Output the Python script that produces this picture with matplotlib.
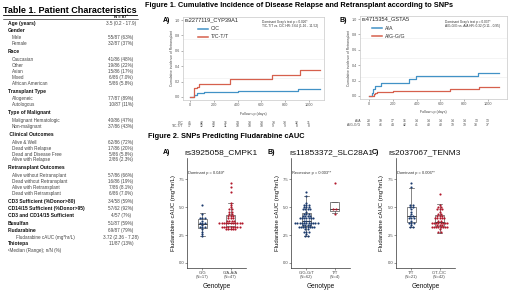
import numpy as np
import matplotlib.pyplot as plt
from matplotlib.transforms import blended_transform_factory

plt.rcParams['font.family'] = ['Liberation Sans', 'DejaVu Sans']

W, H = 520, 292

# ---- Table 1 data ----
row_labels = ["Age (years)", "Gender", "Male", "Female", "Race", "Caucasian", "Other",
              "Asian", "Mixed", "African American", "Transplant Type", "Allogeneic",
              "Autologous", "Type of Malignant", "Malignant Hematologic", "Non-malignant",
              " Clinical Outcomes", "Alive & Well", "Dead with Relapse", "Dead and Disease Free",
              "Alive with Relapse", "Retransplant Outcomes", "Alive without Retransplant",
              "Dead without Retransplant", "Alive with Retransplant", "Dead with Retransplant",
              "CD3 Sufficient (%Donor>80)", "CD14/15 Sufficient (%Donor>95)",
              "CD3 and CD14/15 Sufficient", "Busulfan", "Fludarabine",
              "Fludarabine cAUC (mg*hr/L)", "Thiotepa"]
row_values = ["3.5 (0.2 - 17.9)", "", "55/87 (63%)", "32/87 (37%)", "", "41/86 (48%)",
              "19/86 (22%)", "15/86 (17%)", "6/86 (7.0%)", "5/86 (5.8%)", "", "77/87 (89%)",
              "10/87 (11%)", "", "40/86 (47%)", "37/86 (43%)", "", "62/86 (72%)",
              "17/86 (20%)", "5/86 (5.8%)", "2/86 (2.3%)", "", "57/86 (66%)", "16/86 (19%)",
              "7/86 (8.1%)", "6/86 (7.0%)", "34/58 (59%)", "57/62 (92%)", "4/57 (7%)",
              "51/87 (59%)", "69/87 (79%)", "3.72 (2.36 - 7.28)", "11/87 (13%)"]
row_kinds = ["hv", "h", "i", "i", "h", "i", "i", "i", "i", "i", "h", "i", "i", "h", "i", "i",
             "h", "i", "i", "i", "i", "h", "i", "i", "i", "i", "hv", "hv", "hv", "hv", "hv",
             "i2", "hv"]

# ---- Figure 1 data (cumulative incidence steps) ----
a_cc_days = [0, 36, 56, 117, 405, 910, 1090]
a_cc_inc = [0, 0.02, 0.045, 0.065, 0.08, 0.10, 0.10]
a_tc_days = [0, 34, 56, 78, 340, 693, 927, 1090]
a_tc_inc = [0, 0.11, 0.13, 0.17, 0.23, 0.29, 0.35, 0.35]
b_aa_days = [0, 25, 34, 48, 104, 335, 394, 915, 1090]
b_aa_inc = [0, 0.04, 0.09, 0.13, 0.17, 0.22, 0.26, 0.30, 0.30]
b_ag_days = [0, 42, 54, 65, 203, 682, 920, 1090]
b_ag_inc = [0, 0.02, 0.04, 0.05, 0.07, 0.09, 0.11, 0.11]

risk_days = [0, 100, 200, 300, 400, 500, 600, 700, 800, 900, 1000]
a_risk_cc = [45, 42, 38, 36, 34, 33, 33, 33, 33, 32, 31]
a_risk_tc = [17, 12, 12, 11, 10, 10, 10, 9, 9, 8, 8]
b_risk_aa = [23, 19, 17, 16, 14, 14, 14, 14, 14, 13, 13]
b_risk_ag = [34, 46, 44, 42, 41, 40, 40, 39, 39, 38, 37]

# ---- Figure 2 data (fludarabine cAUC, mg*hr/L) ----
cmpk1_gg = [2.4, 2.6, 2.9, 3.0, 3.1, 3.2, 3.3, 3.4, 3.5, 3.5, 3.7, 3.8, 3.9, 4.0, 4.1, 4.5, 5.2]
cmpk1_ga = [3.0, 3.0, 3.0, 3.0, 3.0, 3.1, 3.1, 3.1, 3.1, 3.3, 3.3, 3.3, 3.3, 3.3,
            3.5, 3.5, 3.5, 3.5, 3.5, 3.5, 3.6, 3.6, 3.6, 3.6, 3.6, 3.8, 3.8, 3.8, 3.8,
            4.0, 4.0, 4.0, 4.2, 4.2, 4.2, 4.4, 4.4, 4.6, 4.6, 4.8, 4.8, 5.0, 5.2, 5.4,
            6.5, 6.8, 7.3]
slc_gg = [2.4, 2.5, 2.6, 2.7, 2.8, 2.9, 3.0, 3.0, 3.1, 3.1, 3.2, 3.2, 3.2, 3.3, 3.3, 3.3,
          3.4, 3.4, 3.4, 3.4, 3.5, 3.5, 3.5, 3.5, 3.6, 3.6, 3.6, 3.6, 3.7, 3.7, 3.7,
          3.8, 3.8, 3.8, 3.9, 3.9, 3.9, 4.0, 4.0, 4.1, 4.1, 4.2, 4.2, 4.3, 4.3, 4.4,
          4.5, 4.5, 4.6, 4.7, 4.8, 4.8, 4.9, 5.0, 5.0, 5.1, 5.2, 5.2, 5.3, 5.4, 6.0, 6.4]
slc_tt = [4.5, 4.7, 4.9, 7.2]
tenm_tt = [3.2, 3.3, 3.4, 3.5, 3.6, 3.7, 3.8, 3.9, 4.0, 4.1, 4.2, 4.3, 4.5, 4.6, 4.8,
           5.0, 5.1, 5.2, 5.3, 6.7, 7.3]
tenm_ct = [2.7, 2.9, 3.0, 3.1, 3.1, 3.2, 3.2, 3.2, 3.3, 3.3, 3.3, 3.4, 3.4, 3.4, 3.5, 3.5,
           3.5, 3.6, 3.6, 3.7, 3.7, 3.7, 3.8, 3.8, 3.9, 3.9, 4.0, 4.0, 4.1, 4.2, 4.2,
           4.3, 4.4, 4.5, 4.6, 4.7, 4.8, 4.9, 5.0, 5.1, 5.3, 6.3]

BLUE, RED = "#4292c6", "#d6604d"
NAVY, DRED = "#1c3b6e", "#b2182b"

fig = plt.figure(figsize=(5.2, 2.92), dpi=100)
canvas = fig.add_axes([0, 0, 1, 1], zorder=10)
canvas.set_xlim(0, W)
canvas.set_ylim(H, 0)
canvas.axis('off')


def rect(x0, y0, x1, y1):
    return [x0 / W, 1 - y1 / H, (x1 - x0) / W, (y1 - y0) / H]


# ---------------- Table 1 ----------------
canvas.text(3, 10.5, "Table 1. Patient Characteristics", fontsize=6.5, weight='bold',
            va='center')
canvas.plot([3, 137], [14.6, 14.6], color='k', lw=0.6)
canvas.text(121, 16.8, "N = 87\u00b9", fontsize=3.1, weight='bold', ha='center', va='center')
canvas.plot([3, 138], [19.4, 19.4], color='k', lw=0.4)

gaps = {("hv", "h"): 6, ("h", "i"): 7.9, ("i", "i"): 5.85, ("i", "h"): 8.0,
        ("i", "hv"): 8.0, ("hv", "hv"): 7.2, ("hv", "i2"): 7, ("i2", "hv"): 6.5}
y = 24
prev = None
for lab, val, kind in zip(row_labels, row_values, row_kinds):
    if prev is not None:
        y += gaps.get((prev, kind), 7)
    if kind in ("h", "hv"):
        canvas.text(8, y, lab, fontsize=3.6, weight='bold', va='center', color='#111')
    else:
        canvas.text(16 if kind == "i2" else 12, y, lab, fontsize=3.3, va='center', color='#444')
    if val:
        canvas.text(121, y, val, fontsize=3.3, ha='center', va='center', color='#444')
    prev = kind
canvas.text(8, y + 7, "\u00b9Median (Range); n/N (%)", fontsize=3.3, va='center', color='#444')

# ---------------- Figure 1 ----------------
canvas.text(299, 5.5, "Figure 1. Cumulative Incidence of Disease Relapse and Retransplant "
            "according to SNPs", fontsize=5.3, weight='bold', ha='center', va='center')


def km_panel(box, xlim, tag, tag_x, title, curves, labels, stats, risk, ylab_x, leg_x):
    ax = fig.add_axes(rect(*box))
    ax.set_xlim(*xlim)
    ax.set_ylim(-0.04, 1.04)
    for g in (0.25, 0.5, 0.75):
        ax.axhline(g, color='#ececec', lw=0.4, zorder=0)
    for (d, v), c in zip(curves, (BLUE, RED)):
        ax.step(d, v, where='post', color=c, lw=0.9)
    ax.set_xticks(range(0, 1001, 200))
    ax.set_yticks(np.arange(0, 1.01, 0.2))
    ax.yaxis.set_major_formatter('{x:.1f}')
    ax.tick_params(labelsize=2.7, length=1.3, width=0.4, colors='#777', labelcolor='#555',
                   pad=1)
    for s in ax.spines.values():
        s.set_color('#c8c8c8')
        s.set_linewidth(0.5)
    x0, y0, x1, y1 = box
    canvas.text(tag_x, 20, tag, fontsize=5, weight='bold', va='center')
    canvas.text(x0 + 1.5, y0 + 3, title, fontsize=4.1, va='center', color='#222')
    for k, (lab, c) in enumerate(zip(labels, (BLUE, RED))):
        yy = y0 + 12 + k * 8
        canvas.plot([leg_x, leg_x + 10], [yy, yy], color=c, lw=1.1)
        canvas.text(leg_x + 13, yy, lab, fontsize=3.8, va='center', color='#333')
    canvas.text(x1 - 62, y0 + 5.5, stats[0], fontsize=2.3, va='center', color='#333')
    canvas.text(x1 - 62, y0 + 9.5, stats[1], fontsize=2.3, va='center', color='#333')
    canvas.text(ylab_x, (y0 + y1) / 2, "Cumulative incidence of Retransplant", fontsize=2.4,
                rotation=90, ha='center', va='center', color='#444')
    canvas.text((x0 + x1) / 2, y1 + 13.5, "Follow up (days)", fontsize=2.6, ha='center',
                va='center', color='#444')
    tr = blended_transform_factory(ax.transData, canvas.transData)
    for k, (lab, nums) in enumerate(zip(labels, risk)):
        yy = y1 + 22.5 + k * 3.6
        canvas.text(x0 + 0.5, yy, lab, fontsize=2.4, ha='right', va='center', color='#444')
        for d, n in zip(risk_days, nums):
            ax.text(d, yy, str(n), transform=tr, fontsize=2.4, ha='center', va='center',
                    color='#444', clip_on=False)


km_panel((183, 17, 324, 100), (-59, 1126), "A)", 163, "rs2277119_CYP39A1",
         [(a_cc_days, a_cc_inc), (a_tc_days, a_tc_inc)], ["C/C", "T/C-T/T"],
         ["Dominant Gray's test p = 0.026*", "T/C-T/T vs. C/C HR: 3.64 (1.16 - 11.52)"],
         [a_risk_cc, a_risk_tc], 172, 198)
km_panel((360, 16, 507, 99), (-76, 1159), "B)", 340, "rs4715354_GSTA5",
         [(b_aa_days, b_aa_inc), (b_ag_days, b_ag_inc)], ["A/A", "A/G-G/G"],
         ["Dominant Gray's test p = 0.037*", "A/G-G/G vs. A/A HR: 0.32 (0.11 - 0.95)"],
         [b_risk_aa, b_risk_ag], 349, 372)

# ---------------- Figure 2 ----------------
canvas.text(148, 136.5, "Figure 2. SNPs Predicting Fludarabine cAUC", fontsize=5.3,
            weight='bold', va='center')


def dots(ax, xc, vals, color, bw=0.2, dx=0.08):
    bins = np.round(np.asarray(vals) / bw) * bw
    xs, ys = [], []
    for b in np.unique(bins):
        n = int(np.sum(bins == b))
        xs.extend(xc + (np.arange(n) - (n - 1) / 2) * dx)
        ys.extend([b] * n)
    ax.plot(xs, ys, 'o', ms=1.55, color=color, mec='none', zorder=3)


def auc_panel(x0, tag, title, title_x, groups, cats, note):
    ax = fig.add_axes(rect(x0, 158, x0 + 59, 268))
    ax.set_xlim(-0.55, 1.55)
    ax.set_ylim(-0.45, 9.4)
    grey = '#555555'
    ax.boxplot(groups, positions=[0, 1], widths=0.32, showfliers=False, patch_artist=True,
               boxprops=dict(facecolor='white', edgecolor=grey, lw=0.5),
               medianprops=dict(color='#222', lw=0.6),
               whiskerprops=dict(color=grey, lw=0.5), capprops=dict(color=grey, lw=0.5),
               capwidths=0.16)
    dots(ax, 0, groups[0], NAVY)
    dots(ax, 1, groups[1], DRED)
    ax.set_xticks([0, 1])
    ax.set_xticklabels(cats, linespacing=1.0)
    ax.set_yticks([0, 2.5, 5.0, 7.5])
    ax.yaxis.set_major_formatter('{x:.1f}')
    ax.tick_params(labelsize=3.0, length=1.3, width=0.4, colors='#444', pad=0.8)
    for s in ('top', 'right'):
        ax.spines[s].set_visible(False)
    for s in ('left', 'bottom'):
        ax.spines[s].set_linewidth(0.5)
        ax.spines[s].set_color('#333')
    canvas.text(x0 - 24, 152.5, tag, fontsize=5, weight='bold', va='center')
    canvas.text(title_x, 153, title, fontsize=6, ha='center', va='center', color='#111')
    canvas.text(x0 + 1, 173, note, fontsize=2.9, va='center', color='#333')
    canvas.text(x0 - 14, 213, "Fludarabine cAUC (mg*hr/L)", fontsize=4.3, rotation=90,
                ha='center', va='center', color='#111')
    canvas.text(x0 + 29.5, 286, "Genotype", fontsize=4.7, ha='center', va='center',
                color='#111')


auc_panel(187, "A)", "rs3925058_CMPK1", 221, [cmpk1_gg, cmpk1_ga],
          ["G/G\n(N=17)", "G/A-A/A\n(N=47)"], "Dominant p = 0.049*")
auc_panel(291, "B)", "rs11853372_SLC28A1", 331, [slc_gg, slc_tt],
          ["G/G-G/T\n(N=62)", "T/T\n(N=4)"], "Recessive p = 0.003**")
auc_panel(396, "C)", "rs2037067_TENM3", 425, [tenm_tt, tenm_ct],
          ["T/T\n(N=21)", "C/T-C/C\n(N=42)"], "Dominant p = 0.006**")

fig.savefig("out.png", dpi=100)
